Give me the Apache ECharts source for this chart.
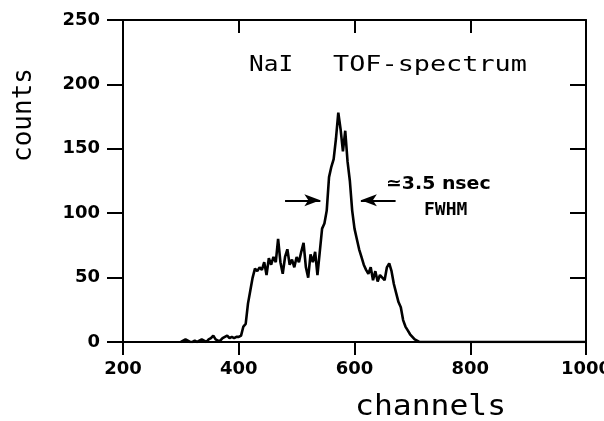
<!DOCTYPE html>
<html>
<head>
<meta charset="utf-8">
<script src="https://cdn.jsdelivr.net/npm/echarts@6.0.0/dist/echarts.min.js"></script>
<style>
html,body{margin:0;padding:0;background:#fff;}
#chart{width:604px;height:421px;}
</style>
</head>
<body>
<div id="chart"></div>
<script>
// channel numbers (x) and counts (y)
var channels = [
  300,304,308,312,316,320,324,328,332,336,
  340,344,348,352,356,360,364,368,372,376,
  380,384,388,392,396,400,404,408,412,416,
  420,424,428,432,436,440,444,448,452,456,
  460,464,468,472,476,480,484,488,492,496,
  500,504,508,512,516,520,524,528,532,536,
  540,544,548,552,556,560,564,568,572,576,
  580,584,588,592,596,600,604,608,612,616,
  620,624,628,632,636,640,644,648,652,656,
  660,664,668,672,676,680,684,688,692,696,
  700,704,708,712,1000
];
var counts = [
  0,1,2,1,0,0,1,0,1,2,
  1,0,2,3,5,2,1,1,3,4,
  5,3,4,3,4,4,5,12,14,30,
  40,50,57,55,58,56,62,52,65,60,
  66,62,80,62,53,66,72,60,64,58,
  66,62,70,77,58,50,68,62,70,52,
  70,88,92,102,128,136,142,158,178,165,
  148,164,140,125,102,88,80,72,66,60,
  56,53,58,48,55,47,52,50,48,58,
  61,55,45,38,31,27,17,12,9,6,
  4,2,1,0,0
];
var xTicks = [200, 400, 600, 800, 1000];
var yTicks = [0, 50, 100, 150, 200, 250];
// FWHM arrows: [from channel, to channel] at a count level
var arrowLevel = 110;
var leftArrow = [480, 541];
var rightArrow = [671, 611];

var data = channels.map(function (c, i) { return [c, counts[i]]; });

var chart = echarts.init(document.getElementById('chart'), null, {renderer: 'canvas'});
var black = '#000';
var labelFont = {color: black, fontFamily: 'DejaVu Sans', fontWeight: 'bold', fontSize: 18,
                 formatter: function (v) { return String(v); }};

function xAx(pos) {
  var bottom = pos === 'bottom';
  return {
    type: 'value', position: pos,
    min: xTicks[0], max: xTicks[xTicks.length - 1], interval: xTicks[1] - xTicks[0],
    axisLine: {show: true, onZero: false, lineStyle: {color: black, width: 2}},
    axisTick: {show: true, inside: !bottom, length: 13, lineStyle: {color: black, width: 2}},
    axisLabel: Object.assign({show: bottom, margin: 18, hideOverlap: false}, labelFont),
    splitLine: {show: false}
  };
}
function yAx(pos) {
  var left = pos === 'left';
  return {
    type: 'value', position: pos,
    min: yTicks[0], max: yTicks[yTicks.length - 1], interval: yTicks[1] - yTicks[0],
    axisLine: {show: true, onZero: false, lineStyle: {color: black, width: 2}},
    axisTick: {show: true, inside: !left, length: 16, lineStyle: {color: black, width: 2}},
    axisLabel: Object.assign({show: left, margin: 23}, labelFont),
    splitLine: {show: false}
  };
}

chart.setOption({
  animation: false,
  backgroundColor: '#fff',
  grid: {left: 123, right: 18, top: 20, bottom: 79, containLabel: false, outerBoundsMode: 'none'},
  xAxis: [xAx('bottom'), xAx('top')],
  yAxis: [yAx('left'), yAx('right')],
  series: [{
    type: 'line',
    data: data,
    xAxisIndex: 0, yAxisIndex: 0,
    showSymbol: false,
    lineStyle: {color: black, width: 2.6},
    markLine: {
      silent: true,
      symbol: ['none', 'arrow'],
      symbolSize: [9, 16],
      label: {show: false},
      lineStyle: {color: black, width: 2, type: 'solid'},
      data: [
        [{coord: [leftArrow[0], arrowLevel]}, {coord: [leftArrow[1], arrowLevel]}],
        [{coord: [rightArrow[0], arrowLevel]}, {coord: [rightArrow[1], arrowLevel]}]
      ]
    }
  }],
  graphic: [
    {type: 'text', x: 249, y: 65, scaleX: 1.11,
     style: {text: 'NaI', fill: black, font: '22px "DejaVu Sans Mono"', align: 'left', verticalAlign: 'middle'}},
    {type: 'text', x: 333, y: 65, scaleX: 1.22,
     style: {text: 'TOF-spectrum', fill: black, font: '22px "DejaVu Sans Mono"', align: 'left', verticalAlign: 'middle'}},
    {type: 'text', x: 386, y: 184, scaleX: 1.05,
     style: {text: '\u22433.5 nsec', fill: black, font: 'bold 18px "DejaVu Sans"', align: 'left', verticalAlign: 'middle'}},
    {type: 'text', x: 424, y: 210,
     style: {text: 'FWHM', fill: black, font: 'bold 18px "DejaVu Sans Mono"', align: 'left', verticalAlign: 'middle'}},
    {type: 'text', x: 355, y: 408, scaleX: 1.12,
     style: {text: 'channels', fill: black, font: '28px "DejaVu Sans Mono"', align: 'left', verticalAlign: 'middle'}},
    {type: 'text', x: 24, y: 115, rotation: Math.PI / 2,
     style: {text: 'counts', fill: black, font: '26px "DejaVu Sans Mono"', align: 'center', verticalAlign: 'middle'}}
  ]
});
</script>
</body>
</html>
